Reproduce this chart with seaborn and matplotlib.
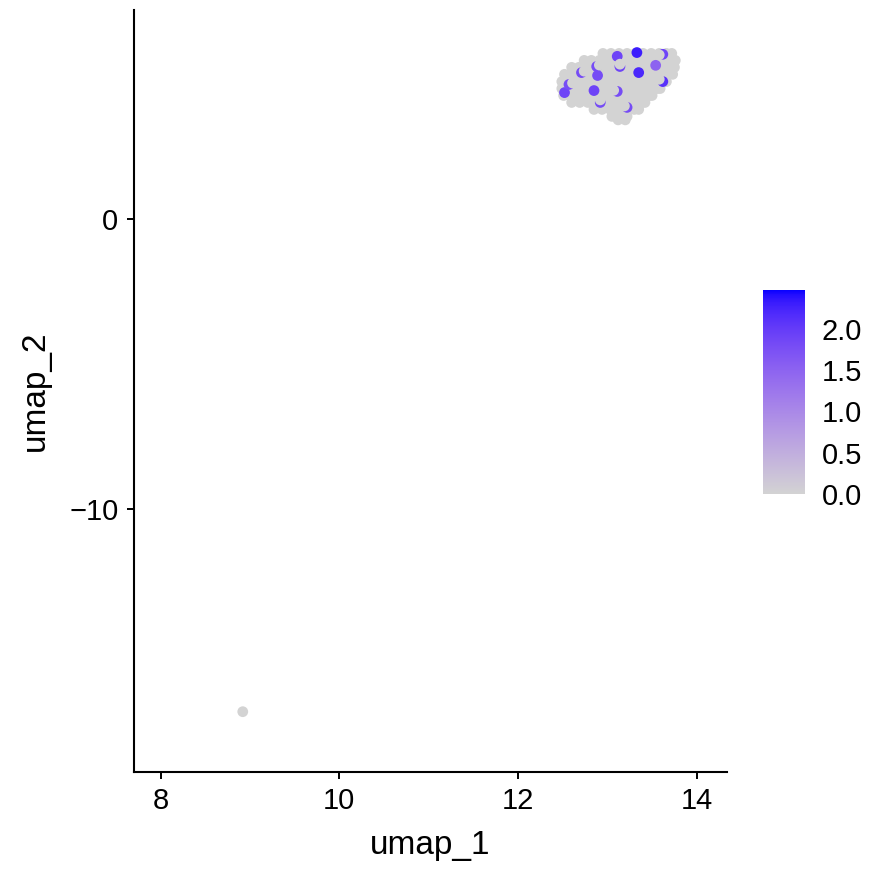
import numpy as np
import pandas as pd
import matplotlib
matplotlib.use('Agg')
import matplotlib.pyplot as plt
import seaborn as sns
from matplotlib.colors import ListedColormap, Normalize
from matplotlib.cm import ScalarMappable


# data
# grey cells of the cluster, one row of y with its x positions
grey_row_y = [5.69, 5.45, 5.21, 4.97, 4.72, 4.48, 4.24, 4.00, 3.76, 3.52, 3.40]
grey_row_x = [
    [12.95, 13.04, 13.13, 13.22, 13.31, 13.40, 13.49, 13.58, 13.66, 13.72],
    [12.74, 12.82, 12.91, 13.00, 13.09, 13.18, 13.27, 13.36, 13.45, 13.54, 13.63, 13.71, 13.76],
    [12.60, 12.68, 12.77, 12.86, 12.95, 13.04, 13.13, 13.22, 13.31, 13.40, 13.49, 13.58, 13.67, 13.75],
    [12.52, 12.60, 12.69, 12.78, 12.87, 12.96, 13.05, 13.14, 13.23, 13.32, 13.41, 13.50, 13.59, 13.67, 13.73],
    [12.49, 12.56, 12.65, 12.74, 12.83, 12.92, 13.01, 13.10, 13.19, 13.28, 13.37, 13.46, 13.55, 13.62, 13.66],
    [12.49, 12.58, 12.67, 12.76, 12.85, 12.94, 13.03, 13.12, 13.21, 13.30, 13.39, 13.48, 13.56, 13.59],
    [12.51, 12.59, 12.68, 12.77, 12.86, 12.95, 13.04, 13.13, 13.22, 13.31, 13.40, 13.47, 13.50],
    [12.60, 12.69, 12.78, 12.87, 12.96, 13.05, 13.14, 13.23, 13.32, 13.39, 13.42],
    [12.85, 12.94, 13.03, 13.12, 13.21, 13.30, 13.35],
    [13.05, 13.14, 13.22],
    [13.12, 13.20],
]

# the lone cell far from the cluster
outlier_x = [8.92]
outlier_y = [-17.0]

# expressing cells
pos_x = [13.11, 13.33, 13.62, 13.14, 13.35, 13.54, 13.62, 12.89, 12.85, 12.52,
         12.71, 12.57, 13.11, 12.92, 13.22, 12.88]
pos_y = [5.59, 5.72, 5.66, 5.24, 5.03, 5.28, 4.72, 4.93, 4.41, 4.34,
         5.03, 4.62, 4.38, 4.00, 3.83, 5.24]
pos_expr = [1.9, 2.3, 1.9, 1.9, 2.2, 1.5, 2.1, 1.8, 1.9, 1.9,
            1.8, 1.8, 1.8, 1.8, 1.8, 1.8]
expr_max = 2.47  # top of the colour scale

# grey cells drawn after, partly hiding some expressing ones
top_x = [13.58, 13.14, 13.58, 12.74, 12.61, 13.07, 12.92, 13.19, 12.91]
top_y = [5.64, 5.32, 4.80, 5.08, 4.67, 4.42, 4.09, 3.88, 5.29]

xticks = [8, 10, 12, 14]
yticks = [-10, 0]
cbar_ticks = [0.0, 0.5, 1.0, 1.5, 2.0]


# build the table in drawing order
gx, gy = [], []
for yy, row in zip(grey_row_y, grey_row_x):
    gx += row
    gy += [yy] * len(row)

df = pd.concat([
    pd.DataFrame({'umap_1': gx + outlier_x, 'umap_2': gy + outlier_y, 'expr': 0.0}),
    pd.DataFrame({'umap_1': pos_x, 'umap_2': pos_y, 'expr': pos_expr}),
    pd.DataFrame({'umap_1': top_x, 'umap_2': top_y, 'expr': 0.0}),
], ignore_index=True)


# lightgrey -> blue ramp interpolated in CIELAB like ggplot
def to_lab(rgb):
    c = np.asarray(rgb, float)
    c = np.where(c > 0.04045, ((c + 0.055) / 1.055) ** 2.4, c / 12.92)
    m = np.array([[0.4124, 0.3576, 0.1805],
                  [0.2126, 0.7152, 0.0722],
                  [0.0193, 0.1192, 0.9505]])
    xyz = m @ c / np.array([0.95047, 1.0, 1.08883])
    f = np.where(xyz > 0.008856, np.cbrt(xyz), 7.787 * xyz + 16 / 116)
    return np.array([116 * f[1] - 16, 500 * (f[0] - f[1]), 200 * (f[1] - f[2])])


def from_lab(lab):
    L, a, b = lab
    fy = (L + 16) / 116
    f = np.array([fy + a / 500, fy, fy - b / 200])
    xyz = np.where(f ** 3 > 0.008856, f ** 3, (f - 16 / 116) / 7.787)
    xyz = xyz * np.array([0.95047, 1.0, 1.08883])
    mi = np.array([[3.2406, -1.5372, -0.4986],
                   [-0.9689, 1.8758, 0.0415],
                   [0.0557, -0.2040, 1.0570]])
    c = mi @ xyz
    c = np.where(c > 0.0031308, 1.055 * np.clip(c, 0, None) ** (1 / 2.4) - 0.055, 12.92 * c)
    return np.clip(c, 0, 1)


lo = to_lab([211 / 255, 211 / 255, 211 / 255])
hi = to_lab([0, 0, 1])
cmap = ListedColormap([from_lab(lo + t * (hi - lo)) for t in np.linspace(0, 1, 256)])


# plot
sns.set_style('white')
plt.rcParams['font.family'] = ['Liberation Sans', 'DejaVu Sans']
plt.rcParams['text.color'] = 'black'
plt.rcParams['axes.labelcolor'] = 'black'
plt.rcParams['xtick.color'] = 'black'
plt.rcParams['ytick.color'] = 'black'

fig = plt.figure(figsize=(8.74, 8.75), dpi=100)
ax = fig.add_axes([0.153, 0.118, 0.679, 0.871])

sns.scatterplot(data=df, x='umap_1', y='umap_2', hue='expr', palette=cmap,
                hue_norm=(0, expr_max), s=60, linewidth=0, legend=False, ax=ax)

ax.set_xlim(7.70, 14.34)
ax.set_ylim(-19.07, 7.2)
ax.set_xticks(xticks)
ax.set_yticks(yticks)
ax.set_yticklabels(['0' if t == 0 else '\u2212%d' % abs(t) for t in yticks])
ax.tick_params(direction='out', length=5, width=1.4, color='black', labelcolor='black',
               labelsize=21, pad=6, left=True, bottom=True)
ax.set_xlabel('umap_1', fontsize=24, labelpad=11, color='black')
ax.set_ylabel('umap_2', fontsize=24, labelpad=13, color='black')
for side in ['top', 'right']:
    ax.spines[side].set_visible(False)
for side in ['left', 'bottom']:
    ax.spines[side].set_color('black')
    ax.spines[side].set_linewidth(1.5)

cax = fig.add_axes([0.873, 0.435, 0.048, 0.234])
cb = fig.colorbar(ScalarMappable(norm=Normalize(0, expr_max), cmap=cmap), cax=cax)
cb.outline.set_visible(False)
cb.set_ticks(cbar_ticks)
cb.set_ticklabels(['%.1f' % t for t in cbar_ticks])
cax.tick_params(direction='in', length=8, width=1, color='white',
                labelcolor='black', labelsize=21, pad=12, left=True, right=True)

fig.savefig('out.png', dpi=100)
